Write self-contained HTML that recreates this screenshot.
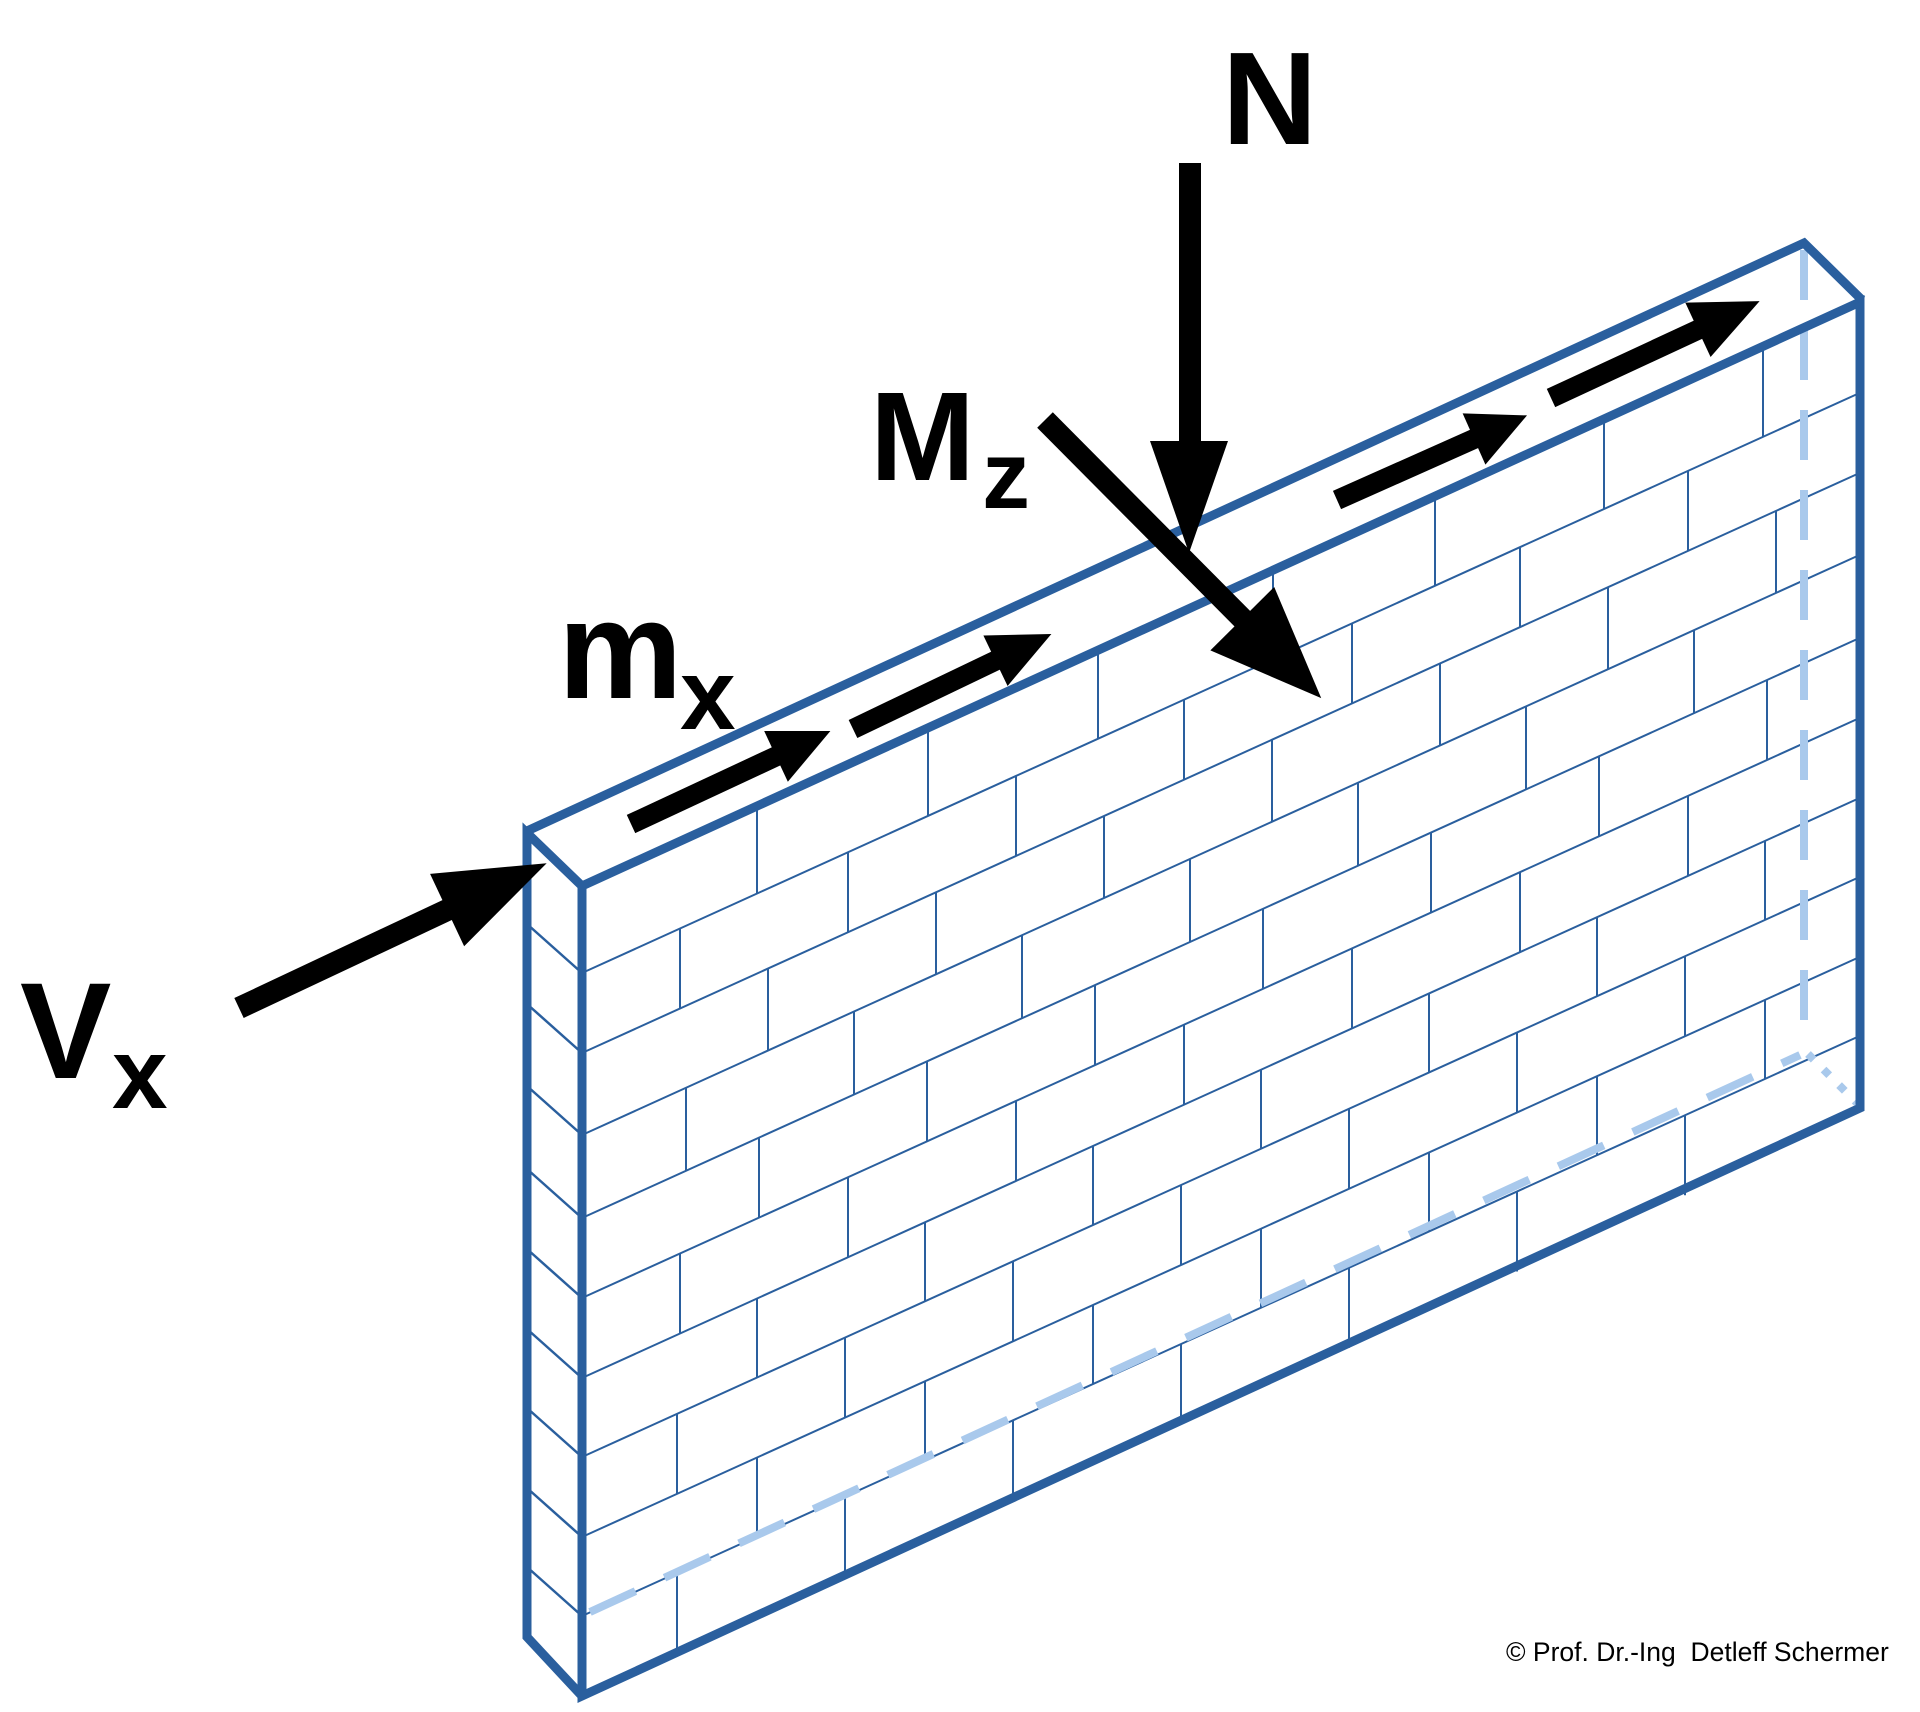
<!DOCTYPE html>
<html><head><meta charset="utf-8"><style>
html,body{margin:0;padding:0;background:#fff;}
svg{display:block;}
text{font-family:"Liberation Sans",sans-serif;font-weight:bold;fill:#000;}
</style></head><body>
<svg width="1920" height="1712" viewBox="0 0 1920 1712" xmlns="http://www.w3.org/2000/svg">
<rect width="1920" height="1712" fill="#fff"/>
<g transform="matrix(1,-0.454,0,1,582,884)" stroke="#2a5f9e" stroke-width="2" fill="none">
<path vector-effect="non-scaling-stroke" d="M0 89H1277M0 169H1277M0 251H1277M0 334H1277M0 414H1277M0 494H1277M0 573H1277M0 653H1277M0 732H1277"/>
<path vector-effect="non-scaling-stroke" d="
M175 0V89M346 0V89M516 0V89M691 0V89M853 0V89M1022 0V89M1181 0V89
M98 89V169M266 89V169M434 89V169M602 89V169M770 89V169M938 89V169M1106 89V169
M186 169V251M354 169V251M522 169V251M690 169V251M858 169V251M1026 169V251M1194 169V251
M104 251V334M272 251V334M440 251V334M608 251V334M776 251V334M944 251V334M1112 251V334
M177 334V414M345 334V414M513 334V414M681 334V414M849 334V414M1017 334V414M1185 334V414
M98 414V494M266 414V494M434 414V494M602 414V494M770 414V494M938 414V494M1106 414V494
M175 494V573M343 494V573M511 494V573M679 494V573M847 494V573M1015 494V573M1183 494V573
M95 573V653M263 573V653M431 573V653M599 573V653M767 573V653M935 573V653M1103 573V653
M175 653V732M343 653V732M511 653V732M679 653V732M847 653V732M1015 653V732M1183 653V732
M95 732V812M263 732V812M431 732V812M599 732V812M767 732V812M935 732V812M1103 732V812"/>
</g>
<g stroke="#a9c9ec" stroke-width="8" fill="none">
<line x1="1804" y1="250" x2="1804" y2="1050" stroke-dasharray="50 30"/>
<line x1="590" y1="1612" x2="1800" y2="1055" stroke-dasharray="50 32"/>
<line x1="1808" y1="1054" x2="1857" y2="1103" stroke-dasharray="8 14"/>
</g>
<g stroke="#2a5f9e" stroke-width="2.5">
<line x1="527" y1="924" x2="582" y2="973"/>
<line x1="527" y1="1004" x2="582" y2="1053"/>
<line x1="527" y1="1086" x2="582" y2="1135"/>
<line x1="527" y1="1169" x2="582" y2="1218"/>
<line x1="527" y1="1249" x2="582" y2="1298"/>
<line x1="527" y1="1329" x2="582" y2="1378"/>
<line x1="527" y1="1408" x2="582" y2="1457"/>
<line x1="527" y1="1488" x2="582" y2="1537"/>
<line x1="527" y1="1567" x2="582" y2="1616"/>
</g>
<g stroke="#2a5f9e" stroke-width="9" fill="none" stroke-linejoin="miter">
<polygon points="582,886 1860,302 1860,1108 582,1696"/>
<polyline points="582,886 527,833 527,1637 582,1696"/>
<polyline points="527,831 1804,243 1862,300"/>
</g>
<g fill="#000">
<rect x="1179" y="163" width="22" height="282"/>
<polygon points="1150,441 1228,441 1189,553"/>
<g transform="translate(1045,420) rotate(45.2)">
<rect x="0" y="-11" width="290" height="22"/>
<polygon points="280,-45 392,0 280,45"/>
</g>
<g transform="translate(239,1008) rotate(-25.2)">
<rect x="0" y="-11" width="240" height="22"/>
<polygon points="230,-40 340,0 230,40"/>
</g>
<g transform="translate(631,824) rotate(-25)"><rect x="0" y="-10" width="170" height="20"/><polygon points="160,-28 220,0 160,28"/></g>
<g transform="translate(853,729) rotate(-25.6)"><rect x="0" y="-10" width="168" height="20"/><polygon points="158,-28 220,0 158,28"/></g>
<g transform="translate(1337,500) rotate(-24)"><rect x="0" y="-10" width="160" height="20"/><polygon points="150,-28 208,0 150,28"/></g>
<g transform="translate(1551,398) rotate(-24.9)"><rect x="0" y="-10" width="172" height="20"/><polygon points="162,-30 230,0 162,30"/></g>
</g>
<text x="1222" y="144" font-size="132">N</text>
<text x="870" y="480" font-size="126">M</text>
<text x="982" y="508" font-size="96">z</text>
<text x="558" y="698" font-size="140">m</text>
<text x="680" y="729" font-size="100">x</text>
<text x="20" y="1078" font-size="137">V</text>
<text x="112" y="1108" font-size="100">x</text>
<text x="1506" y="1661" font-size="26.5" style="font-weight:normal;white-space:pre" xml:space="preserve">© Prof. Dr.-Ing  Detleff Schermer</text>
</svg>
</body></html>
